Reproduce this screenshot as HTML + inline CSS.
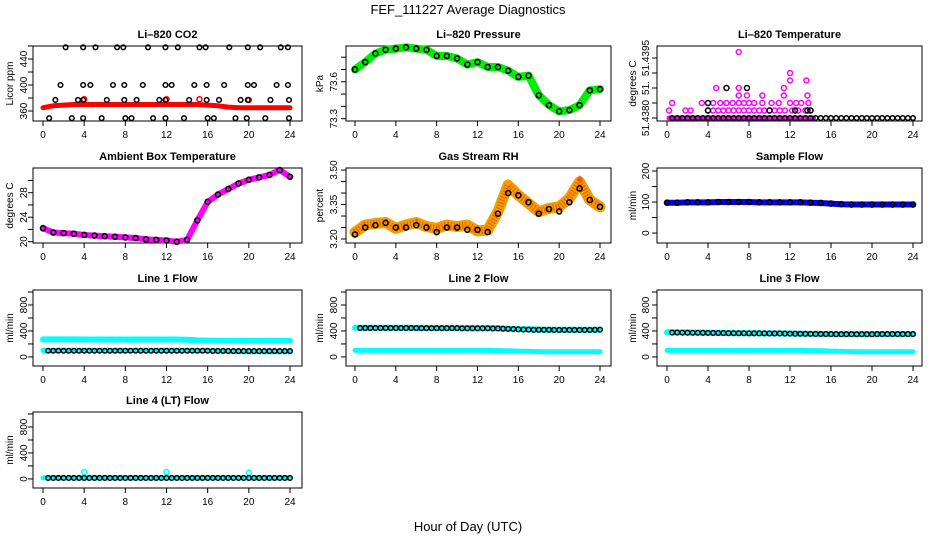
<!DOCTYPE html>
<html><head><meta charset="utf-8"><style>
html,body{margin:0;padding:0;background:#fff}
svg{display:block;font-family:"Liberation Sans",Arial,sans-serif}
</style></head><body>
<svg id="c" width="936" height="540" viewBox="0 0 936 540">
<text x="468" y="14" text-anchor="middle" font-size="13">FEF_111227  Average Diagnostics</text>
<text x="468" y="531" text-anchor="middle" font-size="13">Hour of Day (UTC)</text>
</svg>
<script>
const HRS=[0,1,2,3,4,5,6,7,8,9,10,11,12,13,14,15,16,17,18,19,20,21,22,23,24];
const HALF=[0.5,1,1.5,2,2.5,3,3.5,4,4.5,5,5.5,6,6.5,7,7.5,8,8.5,9,9.5,10,10.5,11,11.5,12,12.5,13,13.5,14,14.5,15,15.5,16,16.5,17,17.5,18,18.5,19,19.5,20,20.5,21,21.5,22,22.5,23,23.5,24];
const XTICKS=[0,4,8,12,16,20,24];
// CO2
const co2Red=[365,368,369,370,370,370,370,370,370,370,370,370,370,370,370,370,369,368,366,365,365,365,365,365,365];
const co2OutT=[4,12,15.2,20];
const co2OutV=[378,378,378,377];
const co2BlkT=[2.2,3.9,5.1,7.2,7.8,10.2,11.9,13.1,15.2,15.8,18.1,19.9,21.1,23.1,23.8,
1.7,3.9,4.6,6.8,7.9,9.7,11.9,12.5,14.7,15.9,17.6,19.9,20.5,22.7,23.8,
1.2,3.4,3.9,6.2,7.9,9.1,11.3,11.9,14.2,15.9,17.1,19.2,19.9,22.1,23.9,
0.6,2.8,3.9,5.7,8.0,8.6,10.7,11.9,13.7,16.0,16.6,18.7,19.8,21.6,23.9];
const co2BlkV=[458,458,458,458,458,458,458,458,458,458,458,458,458,458,458,
400,400,400,400,400,400,400,400,400,400,400,400,400,400,400,
377,377,377,377,377,377,377,377,377,377,377,377,377,377,377,
349,349,349,349,349,349,349,349,349,349,349,349,349,349,349];
// Pressure
const pres=[73.70,73.76,73.83,73.86,73.87,73.88,73.87,73.86,73.81,73.81,73.79,73.74,73.76,73.72,73.72,73.69,73.64,73.65,73.49,73.41,73.36,73.37,73.41,73.53,73.54];
// Temperature
const tempBaseT=[0.2,14.3];
const tempMagT=[0.2,0.5,1.8,2.3,3.4,4.5,5.2,5.8,6.4,7,7.5,8,8.5,9.3,10.2,10.9,12,12.6,13.1,13.8,
4,4.5,5,5.5,6,6.5,7,7.5,8,8.5,9,9.5,10,10.5,11,11.5,12.2,12.8,13.5,14,
7,7.8,9.3,11.4,13.7,4.8,7,11.4,12,13.6,12,7];
const tempMagV=[51.43825,51.4385,51.43825,51.43825,51.4385,51.4385,51.4385,51.4385,51.4385,51.4385,51.4385,51.4385,51.4385,51.4385,51.4385,51.4385,51.4385,51.4385,51.4385,51.4385,
51.43825,51.43825,51.43825,51.43825,51.43825,51.43825,51.43825,51.43825,51.43825,51.43825,51.43825,51.43825,51.43825,51.43825,51.43825,51.43825,51.43825,51.43825,51.43825,51.43825,
51.43875,51.43875,51.43875,51.43875,51.43875,51.439,51.439,51.439,51.43925,51.43925,51.4395,51.4402];
const tempBlkT=[4,10,12.5,13.7,14,5.8,7.8,4];
const tempBlkV=[51.43825,51.43825,51.43825,51.43825,51.43825,51.439,51.439,51.4385];
// Ambient
const amb=[22.2,21.5,21.4,21.3,21.1,21.0,20.9,20.8,20.7,20.6,20.4,20.3,20.2,20.0,20.3,23.5,26.5,27.7,28.6,29.5,30.1,30.5,30.9,31.7,30.6];
// Gas RH
const rh=[3.229,3.261,3.268,3.272,3.246,3.261,3.272,3.254,3.246,3.261,3.254,3.261,3.235,3.239,3.319,3.435,3.391,3.355,3.319,3.333,3.340,3.377,3.449,3.370,3.340];
const rhBlk=[3.22,3.25,3.26,3.27,3.25,3.25,3.26,3.25,3.23,3.25,3.25,3.24,3.24,3.23,3.31,3.40,3.39,3.36,3.31,3.33,3.32,3.36,3.42,3.37,3.34];
// Sample flow
const samp=[98,98,99,99,99,100,100,100,100,99,99,99,99,99,98,97,95,93,92,92,92,92,92,92,92];
// Line flows
const l1Up=[270,270,270,270,268,268,268,268,268,268,268,268,268,268,265,255,252,250,250,250,250,250,250,250,250];
const l1Lo=[100,100,100,100,100,100,100,100,100,100,100,100,100,100,100,98,95,92,88,82,80,80,80,80,80];
const l1Blk=[95,95,95,95,95,95,95,95,95,95,95,95,95,95,95,95,95,95,95,95,95,95,95,95,95,95,95,95,95,95,95,95,92,92,92,92,90,90,90,90,90,90,90,90,90,90,90,90];
const l2Up=[450,450,450,448,448,448,447,447,446,446,445,445,444,444,440,435,428,425,422,420,420,420,420,420,420];
const l2Lo=[100,100,100,100,100,100,100,100,100,100,100,100,100,100,98,95,90,85,82,80,80,80,80,80,80];
const l2Blk=[445,445,445,445,445,445,445,445,445,445,445,445,443,443,443,443,443,443,443,443,440,440,440,440,440,440,438,438,435,432,430,425,422,420,418,418,418,418,415,415,415,415,415,415,415,415,418,420];
const l3Up=[380,378,376,374,372,370,368,366,365,364,363,362,360,358,356,354,352,352,352,352,352,352,352,352,352];
const l3Lo=[100,100,100,100,100,100,100,100,100,100,100,100,100,100,98,95,90,85,82,80,80,80,80,80,80];
const l3Blk=[375,375,374,373,372,372,371,370,369,368,367,366,366,365,365,364,364,363,363,362,362,361,360,359,358,357,356,355,354,353,352,352,350,350,350,350,350,350,350,350,352,352,352,352,352,352,352,352];
const l4Cy=[15,15,15,15,15,15,15,15,15,15,15,15,15,15,15,15,15,15,15,15,15,15,15,15,15];
const l4SpkT=[4,12,20];
const l4SpkV=[105,105,95];
const l4Blk=[15,15,15,15,15,15,15,15,15,15,15,15,15,15,15,15,15,15,15,15,15,15,15,15,15,15,15,15,15,15,15,15,15,15,15,15,15,15,15,15,15,15,15,15,15,15,15,15];

const svg=document.getElementById('c');
const NS='http://www.w3.org/2000/svg';
function mk(tag,attrs,parent){const e=document.createElementNS(NS,tag);for(const k in attrs)e.setAttribute(k,attrs[k]);(parent||svg).appendChild(e);return e;}

const COLS=[{bx0:33,bx1:302,x0:43,x24:290,tlx:23,ylx:9},{bx0:346,bx1:611,x0:355,x24:600,tlx:333,ylx:319},{bx0:657,bx1:922,x0:667,x24:913,tlx:645,ylx:632}];
const ROWS=[{top:46,bot:121},{top:168,bot:243},{top:290,bot:366},{top:412,bot:488}];

function panel(name,title,ylab,col,row,ylim,ticks,labels){
  const c=COLS[col],r=ROWS[row];
  const g=mk('g',{});
  
  
  const X=h=>c.x0+h*(c.x24-c.x0)/24;
  const Y=v=>r.bot-(v-ylim[0])/(ylim[1]-ylim[0])*(r.bot-r.top);
  const t=mk('text',{x:(c.bx0+c.bx1)/2,y:r.top-8,'text-anchor':'middle','font-size':11,'font-weight':'bold'},g);
  t.textContent=title;
  
  
  const yl=mk('text',{x:c.ylx+4,y:(r.top+r.bot)/2,'text-anchor':'middle','font-size':10,transform:`rotate(-90 ${c.ylx+4} ${(r.top+r.bot)/2})`},g);
  yl.textContent=ylab;
  
  
  const ax=mk('g',{stroke:'#000','stroke-width':1},g);
  
  
  mk('line',{x1:c.x0,x2:c.x24,y1:r.bot,y2:r.bot},ax);
  XTICKS.forEach(h=>{
    mk('line',{x1:X(h),x2:X(h),y1:r.bot,y2:r.bot+5},ax);
    const tx=mk('text',{x:X(h),y:r.bot+17,'text-anchor':'middle','font-size':10,stroke:'none'},g);
    tx.textContent=h;
    
    
  });
  mk('line',{x1:c.bx0,x2:c.bx0,y1:Y(ticks[0]),y2:Y(ticks[ticks.length-1])},ax);
  ticks.forEach((v,i)=>{
    mk('line',{x1:c.bx0-5,x2:c.bx0,y1:Y(v),y2:Y(v)},ax);
    if(labels[i]){const ty=mk('text',{x:c.tlx+4,y:Y(v),'text-anchor':'middle','font-size':10,transform:`rotate(-90 ${c.tlx+4} ${Y(v)})`},g);
      ty.textContent=labels[i];
      
      }
  });
  mk('rect',{x:c.bx0,y:r.top,width:c.bx1-c.bx0,height:r.bot-r.top,fill:'none',stroke:'#000'},g);
  const clip='cl'+name;
  const cp=mk('clipPath',{id:clip},g);mk('rect',{x:c.bx0,y:r.top-4,width:c.bx1-c.bx0,height:r.bot-r.top+8},cp);
  const d=mk('g',{'clip-path':`url(#${clip})`},g);
  
  
  return {X,Y,d};
}
function band(p,ts,vs,color,w,nm){
  const pts=ts.map((t,i)=>p.X(t).toFixed(1)+','+p.Y(vs[i]).toFixed(1)).join(' ');
  const e=mk('polyline',{points:pts,fill:'none',stroke:color,'stroke-width':w,'stroke-linejoin':'round','stroke-linecap':'round'},p.d);
  
  
}
function dots(p,ts,vs,color,r,sw,nm){
  const g=mk('g',{fill:'none',stroke:color,'stroke-width':sw},p.d);
  
  
  ts.forEach((t,i)=>{const e=mk('circle',{cx:p.X(t),cy:p.Y(vs[i]),r:r},g);
    
    });
}
function speckle(p,ts,vs,nm){band(p,ts,vs,'#f0a000',11,nm);const pts=ts.map((t,i)=>p.X(t)+','+p.Y(vs[i])).join(' ');
  const e=mk('polyline',{points:pts,fill:'none',stroke:'#ff2000','stroke-width':7,'stroke-dasharray':'1 2',opacity:0.6},p.d);
  
  }

let p;
p=panel('co2-panel','Li\u2013820 CO2','Licor ppm',0,0,[344.6,460],[360,380,400,420,440,460],['360','','400','','440','']);
band(p,HRS,co2Red,'#ff0000',5,'co2-series');
dots(p,co2OutT,co2OutV,'#ff0000',2.5,1.5,'co2-outliers');
dots(p,co2BlkT,co2BlkV,'#000',2.3,1.5,'co2-averages');

p=panel('pressure-panel','Li\u2013820 Pressure','kPa',1,0,[73.281,73.891],[73.3,73.4,73.5,73.6,73.7,73.8],['73.3','','','73.6','','']);
band(p,HRS,pres,'#00ee00',8,'pressure-series');
dots(p,HRS,pres,'#000',2.5,1.6,'pressure-averages');

p=panel('temperature-panel','Li\u2013820 Temperature','degrees C',2,0,[51.43790,51.4404],[51.4380,51.4385,51.4390,51.4395,51.4400],['51.4380','','51.','','51.4395']);
band(p,tempBaseT,[51.4380,51.4380],'#ff00ff',5,'temperature-base');
dots(p,tempMagT,tempMagV,'#ff00ff',2.5,1.5,'temperature-series');
dots(p,HALF,HALF.map(()=>51.4380),'#000',2.3,1.5,'temperature-averages');
dots(p,tempBlkT,tempBlkV,'#000',2.5,1.5,'temperature-averages-high');

p=panel('ambient-panel','Ambient Box Temperature','degrees C',0,1,[19.79,32.03],[20,22,24,26,28,30],['20','','24','','28','']);
band(p,HRS,amb,'#ff00ff',6,'ambient-series');
dots(p,HRS,amb,'#000',2.5,1.6,'ambient-averages');

p=panel('rh-panel','Gas Stream RH','percent',1,1,[3.1826,3.509],[3.20,3.25,3.30,3.35,3.40,3.45,3.50],['3.20','','','3.35','','','3.50']);
speckle(p,HRS,rh,'rh-series');
dots(p,HRS,rhBlk,'#000',2.5,1.6,'rh-averages');

p=panel('sample-flow-panel','Sample Flow','ml/min',2,1,[-32,209.7],[0,50,100,150,200],['0','','100','','200']);
band(p,HRS,samp,'#0000ff',6,'sample-flow-series');
dots(p,HRS,samp,'#000',2.5,1.6,'sample-flow-averages');

const FT=[0,200,400,600,800,1000],FL=['0','','400','','800',''];
p=panel('line1-panel','Line 1 Flow','ml/min',0,2,[-140,1031],FT,FL);
band(p,HRS,l1Up,'#00ffff',6,'line1-upper');
band(p,HRS,l1Lo,'#00ffff',5,'line1-lower');
dots(p,HALF,l1Blk,'#000',2.3,1.5,'line1-averages');

p=panel('line2-panel','Line 2 Flow','ml/min',1,2,[-140,1031],FT,FL);
band(p,HRS,l2Up,'#00ffff',6,'line2-upper');
band(p,HRS,l2Lo,'#00ffff',5,'line2-lower');
dots(p,HALF,l2Blk,'#000',2.3,1.5,'line2-averages');

p=panel('line3-panel','Line 3 Flow','ml/min',2,2,[-140,1031],FT,FL);
band(p,HRS,l3Up,'#00ffff',6,'line3-upper');
band(p,HRS,l3Lo,'#00ffff',5,'line3-lower');
dots(p,HALF,l3Blk,'#000',2.3,1.5,'line3-averages');

p=panel('line4-panel','Line 4 (LT) Flow','ml/min',0,3,[-140,1031],FT,FL);
band(p,HRS,l4Cy,'#00ffff',5,'line4-series');
dots(p,l4SpkT,l4SpkV,'#00ffff',2.5,1.6,'line4-spikes');
dots(p,HALF,l4Blk,'#000',2.3,1.5,'line4-averages');
</script>
</body></html>
